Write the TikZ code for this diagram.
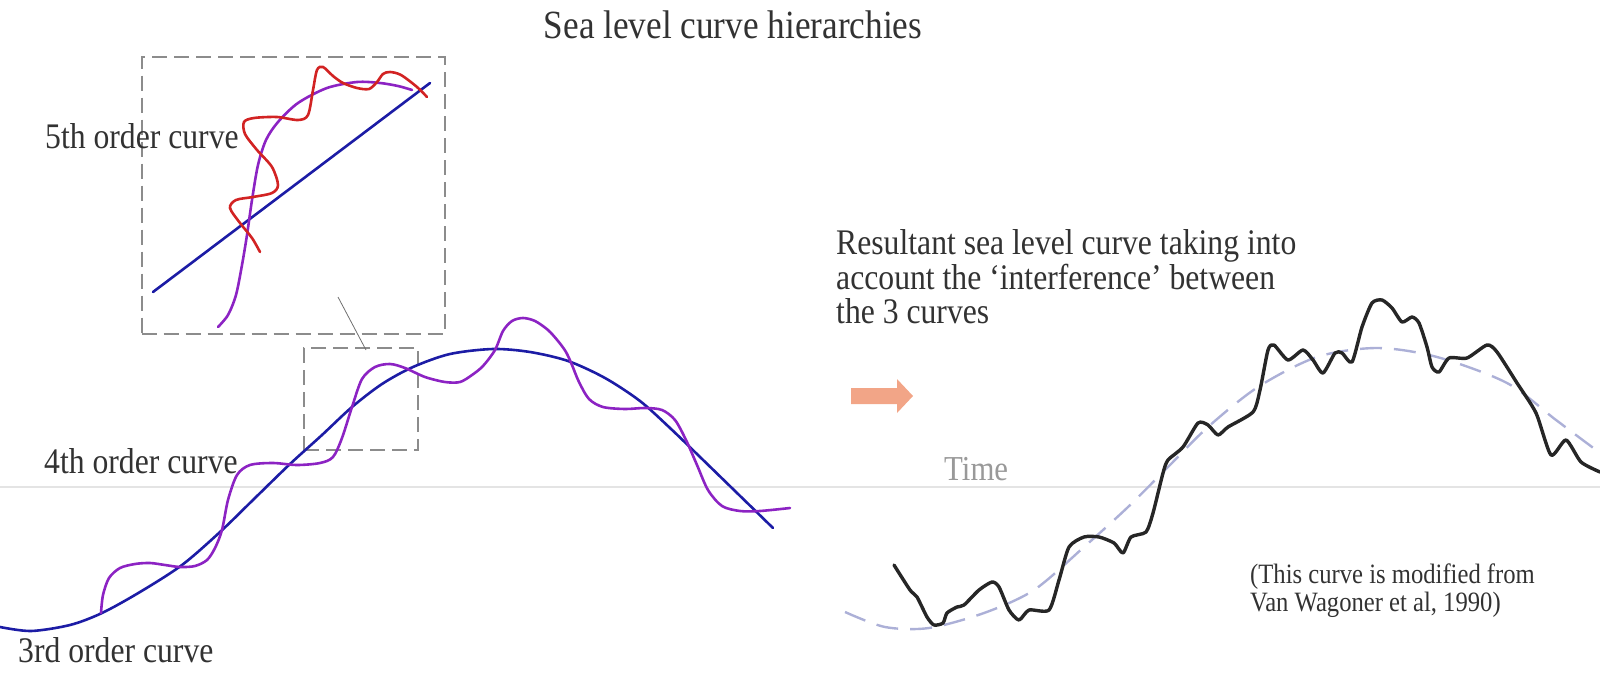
\documentclass[tikz,border=0pt]{standalone}
\usepackage{fontspec}
\setmainfont{Liberation Serif}[FakeStretch=0.88]
\definecolor{txtgray}{RGB}{50,50,50}
\definecolor{boxgray}{RGB}{140,140,140}
\definecolor{c3blue}{RGB}{28,28,165}
\definecolor{c4purple}{RGB}{140,35,195}
\definecolor{c5red}{RGB}{210,35,35}
\definecolor{lavender}{RGB}{172,176,215}
\definecolor{arrowfill}{RGB}{242,165,135}
\definecolor{axisgray}{RGB}{228,228,228}
\begin{document}
\begin{tikzpicture}[x=1pt,y=-1pt,
  lbl/.style={anchor=base west,inner sep=0,text=txtgray,font=\fontsize{36}{38}\selectfont},
  cite/.style={anchor=base west,inner sep=0,text=txtgray,font=\fontsize{28}{30}\selectfont},
  dashbox/.style={draw=boxgray,line width=2pt,dash pattern=on 15pt off 7pt,inner sep=0},
  curve3/.style={draw=c3blue,line width=2.6pt,line cap=round},
  curve4/.style={draw=c4purple,line width=2.6pt,line cap=round},
  curve5/.style={draw=c5red,line width=2.6pt,line cap=round},
  resultant/.style={draw=black!85,line width=3.4pt,line cap=round,line join=round},
  trend/.style={draw=lavender,line width=2.4pt,dash pattern=on 22pt off 12pt}]
\useasboundingbox (0,0) rectangle (1600,680);

% time axis
\coordinate (axL) at (0,487);
\coordinate (axR) at (1600,487);
\draw[axisgray,line width=1.5pt] (axL) -- (axR);

% title
\node[anchor=base,inner sep=0,text=txtgray,font=\fontsize{40}{42}\selectfont] (title) at (733,38) {Sea level curve hierarchies};

% dashed boxes
\node[dashbox,minimum width=303pt,minimum height=277pt] (box5) at (293,195) {};
\node[dashbox,minimum width=114pt,minimum height=102pt] (box4) at (361,399) {};
\coordinate (lk1) at (338,297);
\coordinate (lk2) at (366,350);
\draw[boxgray!80!black,line width=0.8pt] (lk1) -- (lk2);

% inset: 5th order
\draw[curve3] (153,292) -- (430,83);
\draw[curve4] plot[smooth] coordinates {(218,327) (228,315) (236,295) (242,265) (247,235) (252,200) (258,165) (266,140) (278,122) (298,103) (327,88) (357,82) (380,83) (398,86) (412,90)};
\draw[curve5] plot[smooth] coordinates {(260,252) (252,238) (240,223) (230,208) (236,200) (253,197) (272,193) (278,185) (272,167) (257,150) (245,134) (244,122) (254,118) (277,117) (298,120) (308,115) (313,90) (317,70) (323,67) (333,76) (343,83) (357,88) (369,89) (377,82) (383,74) (390,72) (401,75) (417,87) (427,97)};

% main 3rd and 4th order curves
\draw[curve3] plot[smooth] coordinates {(0,627) (31,631) (70,625) (102,613) (140,592) (182,565) (220,532) (255,498) (290,464) (322,435) (352,407) (382,384) (413,367) (450,354) (493,349) (530,352) (568,361) (605,378) (640,401) (670,428) (699,456) (735,491) (773,528)};
\draw[curve4] plot[smooth] coordinates {(101,613) (103,595) (109,578) (120,568) (135,564) (150,563) (165,565) (180,567) (195,566) (207,560) (215,548) (222,530) (228,500) (237,475) (250,465) (273,463) (297,465) (320,463) (333,457) (342,438) (352,407) (362,379) (375,367) (390,364) (405,368) (425,377) (445,382) (460,382) (472,375) (483,366) (495,350) (503,331) (512,321) (523,318) (535,321) (548,330) (558,341) (566,352) (572,365) (579,382) (589,399) (603,407) (625,409) (645,408) (662,410) (675,420) (686,440) (697,465) (708,490) (722,506) (740,511) (760,511) (790,508)};

% labels
\node[lbl] (l5) at (45,148) {5th order curve};
\node[lbl] (l4) at (44,473) {4th order curve};
\node[lbl] (l3) at (18,662) {3rd order curve};

% arrow
\fill[arrowfill] (851,388) -- (897,388) -- (897,379) -- (913,396) -- (897,413) -- (897,404) -- (851,404) -- cycle;

% right text
\node[lbl] (res1) at (836,254) {Resultant sea level curve taking into};
\node[lbl] (res2) at (836,289) {account the `interference' between};
\node[lbl] (res3) at (836,323) {the 3 curves};
\node[anchor=base west,inner sep=0,text=black!40,font=\fontsize{35}{37}\selectfont] (time) at (944,480) {Time};
\node[cite] (src1) at (1250,583) {(This curve is modified from};
\node[cite] (src2) at (1250,611) {Van Wagoner et al, 1990)};

% resultant curve
\draw[trend] plot[smooth] coordinates {(845,612) (885,627) (929,628) (984,613) (1034,590) (1084,547) (1128,507) (1168,467) (1208,427) (1258,387) (1317,357) (1377,348) (1437,357) (1507,383) (1556,420) (1600,453)};
\draw[resultant] plot[smooth,tension=0.4] coordinates {(894,565) (910,590) (917,597) (927,617) (934,625) (943,623) (947,613) (957,607) (964,605) (979,590) (992,582) (999,587) (1009,610) (1019,620) (1029,610) (1049,610) (1059,580) (1069,547) (1084,537) (1099,537) (1114,543) (1123,553) (1131,537) (1146,532) (1153,513) (1163,473) (1168,460) (1183,447) (1198,423) (1208,425) (1218,435) (1228,427) (1253,412) (1260,390) (1268,350) (1274,345) (1288,360) (1303,350) (1313,360) (1323,373) (1335,353) (1342,353) (1352,362) (1362,327) (1372,303) (1382,300) (1392,308) (1402,322) (1412,317) (1419,323) (1427,347) (1432,367) (1439,372) (1449,358) (1467,358) (1487,345) (1497,352) (1517,383) (1536,413) (1551,455) (1566,440) (1581,462) (1600,472)};
\end{tikzpicture}
\end{document}
